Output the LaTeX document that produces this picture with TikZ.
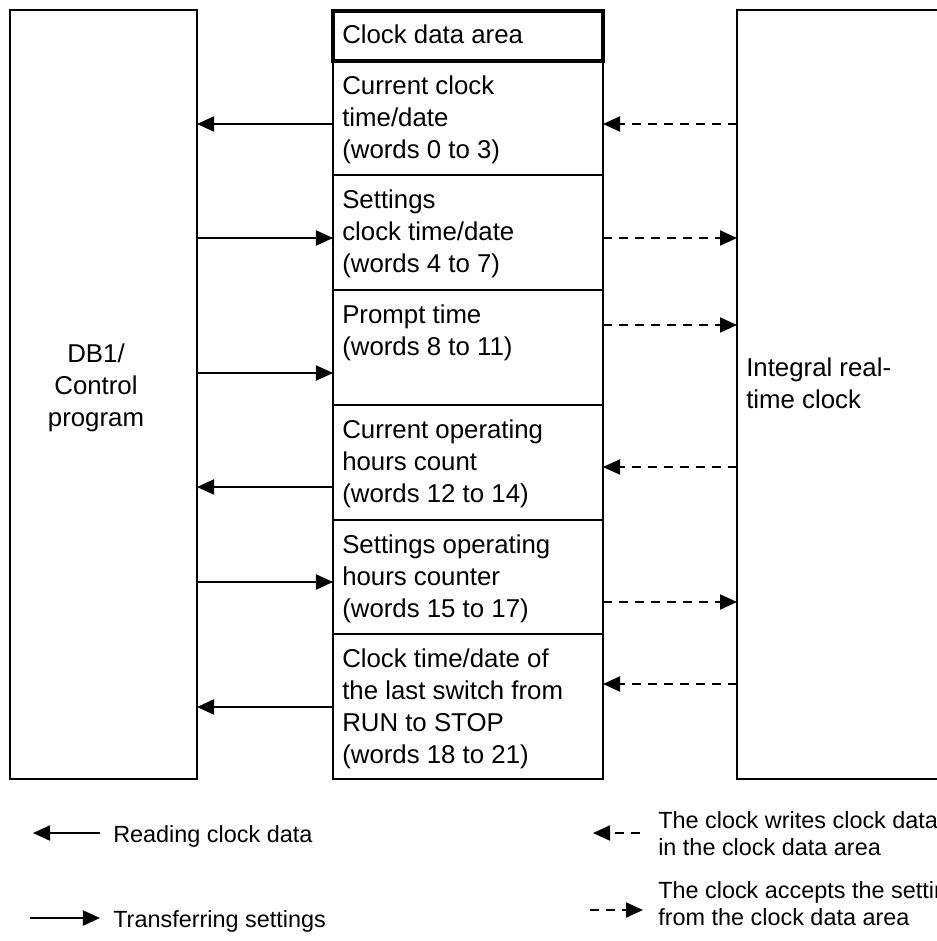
\documentclass[tikz,border=0pt]{standalone}
\usepackage{fontspec}
\setmainfont{Liberation Sans}
\usetikzlibrary{arrows.meta}
\newlength\pxu
\setlength\pxu{0.025cm}
\tikzset{
  cell/.style={draw, line width=2\pxu, inner sep=0pt, outer sep=0pt, minimum width=270\pxu, anchor=north west},
  box/.style={draw, line width=2\pxu, inner sep=0pt, outer sep=0pt, minimum height=769\pxu, anchor=north west},
  txt/.style={inner sep=0pt, align=left, anchor=north west, font=\fontsize{18.35pt}{22.76pt}\selectfont},
  legtxt/.style={inner sep=0pt, align=left, anchor=north west, font=\fontsize{16.65pt}{19.14pt}\selectfont},
  rd/.style={line width=0.05cm, -{Triangle[length=0.425cm, width=0.375cm]}},
  wr/.style={rd, dash pattern=on 0.225cm off 0.175cm},
}
\begin{document}
\begin{tikzpicture}[x=0.025cm, y=-0.025cm]
    \useasboundingbox (0,0) rectangle (937,941);
    % program and clock
    \node[box, minimum width=187\pxu] (prog) at (10,10) {};
    \node[box, minimum width=300\pxu] (clk) at (737,10) {};
    \node[txt, anchor=north, align=center] (tprog) at (96,339.6) {\strut DB1/\\Control\\program};
    \node[txt] (tclk) at (746,353.6) {\strut Integral real-\\time clock};
    % clock data area
    \node[cell, minimum height=114\pxu] (r1) at (333,61) {};
    \node[cell, minimum height=115\pxu] (r2) at (333,175) {};
    \node[cell, minimum height=115\pxu] (r3) at (333,290) {};
    \node[cell, minimum height=115\pxu] (r4) at (333,405) {};
    \node[cell, minimum height=114\pxu] (r5) at (333,520) {};
    \node[cell, minimum height=145\pxu] (r6) at (333,634) {};
    \node[cell, line width=4\pxu, minimum height=50.5\pxu] (head) at (333,10.5) {};
    \node[txt] (thead) at (342,20.6) {\strut Clock data area};
    \node[txt] (t1) at (342,72.1) {\strut Current clock\\time/date\\(words 0 to 3)};
    \node[txt] (t2) at (342,186.1) {\strut Settings\\clock time/date\\(words 4 to 7)};
    \node[txt] (t3) at (342,301.1) {\strut Prompt time\\(words 8 to 11)};
    \node[txt] (t4) at (342,416.1) {\strut Current operating\\hours count\\(words 12 to 14)};
    \node[txt] (t5) at (342,531.1) {\strut Settings operating\\hours counter\\(words 15 to 17)};
    \node[txt] (t6) at (342,645.1) {\strut Clock time/date of\\the last switch from\\RUN to STOP\\(words 18 to 21)};
    % reading and transferring
    \draw[rd] (r1.west |- 0,124) -- (prog.east |- 0,124);
    \draw[wr] (clk.west |- 0,124) -- (r1.east |- 0,124);
    \draw[rd] (prog.east |- 0,238) -- (r2.west |- 0,238);
    \draw[wr] (r2.east |- 0,238) -- (clk.west |- 0,238);
    \draw[rd] (prog.east |- 0,373) -- (r3.west |- 0,373);
    \draw[wr] (r3.east |- 0,325) -- (clk.west |- 0,325);
    \draw[rd] (r4.west |- 0,487) -- (prog.east |- 0,487);
    \draw[wr] (clk.west |- 0,467) -- (r4.east |- 0,467);
    \draw[rd] (prog.east |- 0,582) -- (r5.west |- 0,582);
    \draw[wr] (r5.east |- 0,602) -- (clk.west |- 0,602);
    \draw[rd] (r6.west |- 0,707) -- (prog.east |- 0,707);
    \draw[wr] (clk.west |- 0,684) -- (r6.east |- 0,684);
    % legend
    \coordinate (lrt) at (33,833);
    \coordinate (lre) at (100,833);
    \draw[rd] (lre) -- (lrt);
    \node[legtxt] (lread) at (113,823) {\strut Reading clock data};
    \coordinate (lts) at (30,918);
    \coordinate (ltt) at (100,918);
    \draw[rd] (lts) -- (ltt);
    \node[legtxt] (ltrans) at (113,908) {\strut Transferring settings};
    \coordinate (lws) at (640,833);
    \coordinate (lwt) at (593,833);
    \draw[wr] (lws) -- (lwt);
    \node[legtxt] (lwrite) at (658,809) {\strut The clock writes clock data\\in the clock data area};
    \coordinate (las) at (590,910);
    \coordinate (lat) at (643,910);
    \draw[wr] (las) -- (lat);
    \node[legtxt] (laccept) at (658,879) {\strut The clock accepts the settings\\from the clock data area};
\end{tikzpicture}
\end{document}
